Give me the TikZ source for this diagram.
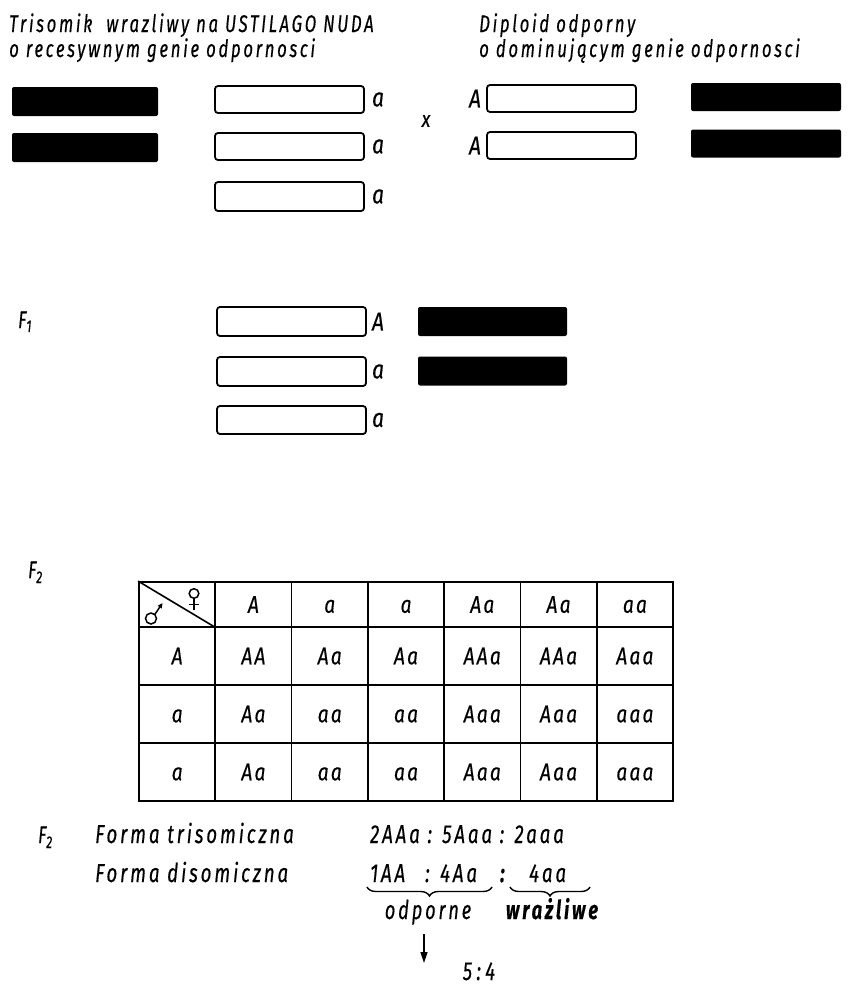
\documentclass[tikz,border=0pt]{standalone}
\usepackage{fontspec}
\setmainfont{Fira Sans}
% narrow, widely tracked lettering
\newfontfamily\lettering{Fira Sans}[FakeStretch=0.7, LetterSpace=11, FakeBold=0.4]
\newfontfamily\bottomletter{Fira Sans}[FakeStretch=0.72, LetterSpace=11, FakeBold=0.4]
\newfontfamily\cellletter{Fira Sans}[FakeStretch=0.8, LetterSpace=9, FakeBold=0.4]
\usetikzlibrary{decorations.pathreplacing,arrows.meta}

\begin{document}
\begin{tikzpicture}[x=1pt,y=-1pt,
  ttl/.style={inner sep=0pt, anchor=base west, font=\lettering\itshape\fontsize{24}{26}\selectfont},
  txt/.style={inner sep=0pt, font=\bottomletter\itshape\fontsize{26}{28}\selectfont},
  gene/.style={inner sep=0pt, font=\cellletter\itshape\fontsize{26}{28}\selectfont},
  wbox/.style={draw, line width=1.8pt, rounded corners=3pt, fill=white,
    minimum width=149pt, minimum height=27pt, inner sep=0pt},
  bbox/.style={fill=black, rounded corners=2pt,
    minimum width=146pt, minimum height=29pt, inner sep=0pt},
  cellbox/.style={draw, line width=1.8pt, inner sep=0pt, minimum width=76.29pt,
    text height=16.5pt, text depth=0pt, font=\cellletter\itshape\fontsize{24}{26}\selectfont},
  grid/.style={line width=1.6pt},
  arr/.style={line width=1.6pt, -{Triangle[length=11pt,width=7pt]}},
]
\useasboundingbox (0,0) rectangle (848,988);

% ---------- parents ----------
\node[ttl] (t1a) at (9,32) {Trisomik\ \ wrazliwy na USTILAGO NUDA};
\node[ttl] (t1b) at (9,57) {o recesywnym genie odpornosci};
\node[ttl] (t2a) at (479,32) {Diploid odporny};
\node[ttl] (t2b) at (479,57) {o dominującym genie odpornosci};

% trisomic parent
\node[bbox] (lb1) at (85,101.5) {};
\node[bbox] (lb2) at (85,147.5) {};
\node[wbox] (lw1) at (289.5,99.5) {};
\node[wbox] (lw2) at (289.5,146.5) {};
\node[wbox, minimum height=29pt] (lw3) at (289.5,196.5) {};
\node[gene, anchor=west] (la1) at ([xshift=7pt]lw1.east) {a};
\node[gene, anchor=west] (la2) at ([xshift=7pt]lw2.east) {a};
\node[gene, anchor=west] (la3) at ([xshift=7pt]lw3.east) {a};

\node[gene, font=\cellletter\itshape\fontsize{22}{23}\selectfont] (cross) at (426,121) {x};

% diploid parent
\node[wbox] (rw1) at (561.5,98.5) {};
\node[wbox] (rw2) at (561.5,145.5) {};
\node[gene, anchor=east] (rA1) at ([xshift=-5pt]rw1.west) {A};
\node[gene, anchor=east] (rA2) at ([xshift=-5pt]rw2.west) {A};
\node[bbox, minimum width=150pt, minimum height=28pt] (rb1) at (766,97) {};
\node[bbox, minimum width=150pt, minimum height=28pt] (rb2) at (766,143.5) {};

% ---------- F1 ----------
\node[ttl] (f1) at (18,328) {F\raisebox{-4pt}{\fontsize{17}{17}\selectfont 1}};
\node[wbox, minimum height=29pt] (fw1) at (291.5,321.5) {};
\node[wbox, minimum height=29pt] (fw2) at (291.5,371.5) {};
\node[wbox, minimum height=28pt] (fw3) at (291.5,420) {};
\node[gene, anchor=west] (fA1) at ([xshift=5pt]fw1.east) {A};
\node[gene, anchor=west] (fa2) at ([xshift=5pt]fw2.east) {a};
\node[gene, anchor=west] (fa3) at ([xshift=5pt]fw3.east) {a};
\node[bbox, minimum width=149pt] (fb1) at (492.5,321.5) {};
\node[bbox, minimum width=149pt] (fb2) at (492.5,371) {};

% ---------- F2 table ----------
\node[ttl] (f2) at (28,578) {F\raisebox{-5pt}{\fontsize{17}{17}\selectfont 2}};

\foreach \t [count=\c from 0] in {{},A,a,a,Aa,Aa,aa}
  \node[cellbox, minimum height=45pt] (h\c) at ({139+76.286*(\c+0.5)},604.5) {\t};
\foreach \t [count=\c from 0] in {A,AA,Aa,Aa,AAa,AAa,Aaa}
  \node[cellbox, minimum height=58pt] (r1c\c) at ({139+76.286*(\c+0.5)},656) {\t};
\foreach \t [count=\c from 0] in {a,Aa,aa,aa,Aaa,Aaa,aaa}
  \node[cellbox, minimum height=58pt] (r2c\c) at ({139+76.286*(\c+0.5)},714) {\t};
\foreach \t [count=\c from 0] in {a,Aa,aa,aa,Aaa,Aaa,aaa}
  \node[cellbox, minimum height=58pt] (r3c\c) at ({139+76.286*(\c+0.5)},772) {\t};

% corner: diagonal with sex symbols
\draw[grid] (h0.north west) -- (h0.south east);
% female
\draw[line width=1.5pt] (194,593.5) circle (4.8);
\draw[line width=1.5pt] (194,598.3) -- (194,610) (189,604.5) -- (199,604.5);
% male
\draw[line width=1.5pt] (151,618.5) circle (5.5);
\draw[line width=1.5pt, -{Triangle[length=5pt,width=4.5pt]}] (154.8,614.5) -- (162.5,603);

% ---------- segregation ----------
\node[ttl] (f2b) at (38,843) {F\raisebox{-5pt}{\fontsize{17}{17}\selectfont 2}};
\node[txt, anchor=base west] (ftri) at (95,843) {Forma\ trisomiczna};
\node[txt, anchor=base west] (fdi) at (95,882) {Forma\ disomiczna};
\node[txt, anchor=base west] (rtri) at (370,843) {2AAa : 5Aaa : 2aaa};
\node[txt, anchor=base west] (d1) at (370,882) {1AA};
\node[txt, anchor=base west] (dc1) at (425,882) {:};
\node[txt, anchor=base west] (d2) at (440,882) {4Aa};
\node[txt, anchor=base west, font=\bottomletter\bfseries\itshape\fontsize{26}{28}\selectfont] (dc2) at (500,882) {:};
\node[txt, anchor=base west] (d3) at (529,882) {4aa};

\coordinate (b1s) at (367,887);
\coordinate (b1e) at (492,887);
\coordinate (b2s) at (510,887);
\coordinate (b2e) at (590,887);
\draw[line width=1.4pt, decorate, decoration={brace, mirror, amplitude=9pt}] (b1s) -- (b1e);
\draw[line width=1.4pt, decorate, decoration={brace, mirror, amplitude=9pt}] (b2s) -- (b2e);

\node[txt, anchor=base, font=\lettering\itshape\fontsize{26}{28}\selectfont] (odp) at (428,919) {odporne};
\node[txt, anchor=base, font=\lettering\bfseries\itshape\fontsize{26}{28}\selectfont] (wrz) at (552,919) {wrażliwe};

\coordinate (arrEnd) at (424,963);
\draw[arr] ([yshift=-9pt]odp.south -| arrEnd) -- (arrEnd);
\node[txt, anchor=base, font=\bottomletter\itshape\fontsize{26}{28}\selectfont] (ratio) at (479,980) {5\,:\,4};
\end{tikzpicture}
\end{document}
